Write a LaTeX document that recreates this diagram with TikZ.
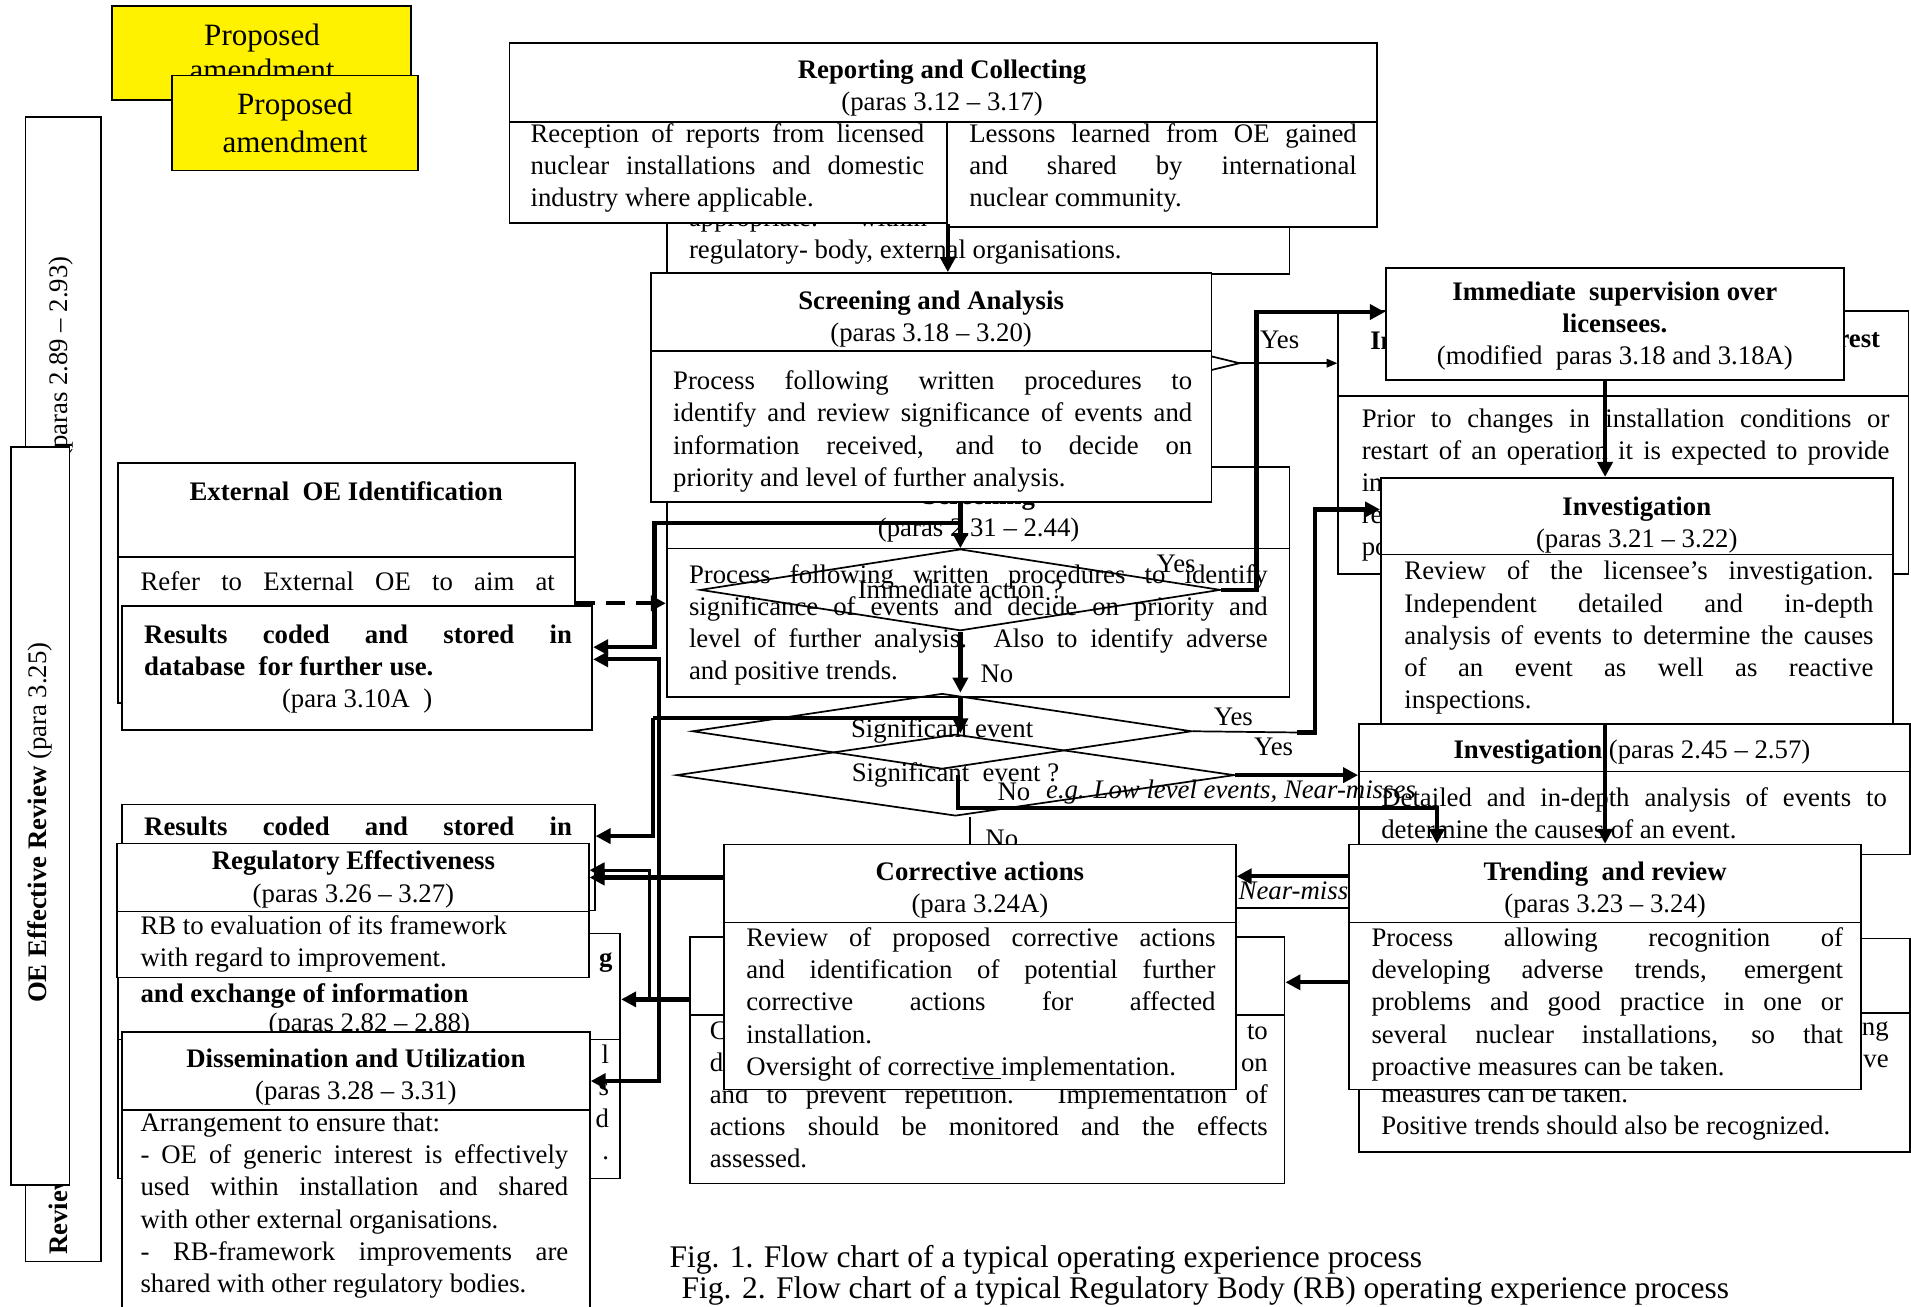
\documentclass[tikz,border=0pt]{standalone}
\usepackage{fontspec}
\setmainfont{Liberation Serif}
\usetikzlibrary{arrows.meta, positioning, fit, shapes.geometric}

\newcommand{\txtfont}{\fontsize{12.5}{15}\selectfont\hyphenpenalty=10000\exhyphenpenalty=10000\relax}

\begin{document}
\begin{tikzpicture}[>={Triangle[length=7pt,width=7pt]}, x=0.02cm, y=-0.02cm, font=\txtfont]
  \tikzstyle{rbox}=[draw, line width=0.8pt, fill=white, inner sep=0pt]
  \tikzstyle{ybox}=[rbox, fill=yellow]
  \tikzstyle{txt}=[anchor=north west, inner sep=0pt]
  \tikzstyle{jtxt}=[txt, align=justify]
  \tikzstyle{ctxt}=[anchor=north, inner sep=0pt, align=center]
  \tikzstyle{lbl}=[inner sep=0pt]
  \tikzstyle{flow}=[line width=2pt]
  \tikzstyle{medflow}=[line width=1.4pt]
  \tikzstyle{thinflow}=[line width=0.8pt]
  \tikzstyle{decision}=[diamond, draw, line width=0.8pt, inner sep=0pt, aspect=6]

  \useasboundingbox (0,0) rectangle (1568,1072);

  % review boxes on the left
  \node[rbox, fit={(21,96) (83,1035)}] (orev) {};
  \node[rotate=90, anchor=east, inner sep=0pt] (orevp) at (50,210) {(paras 2.89 -- 2.93)};
  \node[rotate=90, anchor=west, inner sep=0pt, font=\txtfont\bfseries] (orevt) at (48,1030) {Review};
  \node[rbox, fit={(9,367) (57,972)}] (rev) {};
  \node[rotate=90, inner sep=0pt] (revt) at (33,675) {\textbf{OE Effective Review} (para 3.25)};

  \node[ybox, fit={(92,5) (337,82)}] (prop1) {};
  \node[ctxt, font=\fontsize{14.5}{16.5}\selectfont] (prop1t) at (215,19) {Proposed\\amendment};
  \node[ybox, fit={(141,62) (343,140)}] (prop2) {};
  \node[ctxt, font=\fontsize{14.5}{17.6}\selectfont] (prop2t) at (242,76) {Proposed\\amendment};

  % old chart
  \node[rbox, fit={(547,150) (1058,225)}] (orep) {};
  \node[txt, align=left] (orept) at (565,170) {appropriate:\hspace{1.5em}within\\regulatory- body, external organisations.};

  \node[rbox, fit={(547,383) (1058,450)}] (oscrh) {};
  \node[rbox, fit={(547,450) (1058,572)}] (oscrb) {};
  \node[ctxt] (oscrht) at (803,398) {\textbf{Screening}\\(paras 2.31 -- 2.44)};
  \node[jtxt, text width=9.5cm] (oscrbt) at (565,463) {Process following written procedures to identify\linebreak significance of events and decide on priority and\linebreak level of further analysis. Also to identify adverse\linebreak and positive trends.};

  \node[rbox, fit={(1098,255) (1566,325)}] (oimmh) {};
  \node[rbox, fit={(1098,325) (1566,471)}] (oimmb) {};
  \node[txt, font=\txtfont\bfseries] (oimmt1) at (1124,272) {In};
  \node[txt, anchor=north east, font=\txtfont\bfseries] (oimmt2) at (1543,272) {rest};
  \node[jtxt, text width=8.66cm] (oimmbt) at (1117,335) {Prior to changes in installation conditions or\linebreak restart of an operation it is expected to provide\linebreak in\\re\\po};

  \node[rbox, fit={(1115,594) (1567,633)}] (oinvh) {};
  \node[rbox, fit={(1115,633) (1567,701)}] (oinvb) {};
  \node[ctxt] (oinvht) at (1339,607) {\textbf{Investigation} (paras 2.45 -- 2.57)};
  \node[jtxt, text width=8.3cm] (oinvbt) at (1133,646) {Detailed and in-depth analysis of events to\linebreak determine the causes of an event.};

  \node[rbox, fit={(1115,770) (1567,831)}] (otrh) {};
  \node[rbox, fit={(1115,831) (1567,945)}] (otrb) {};
  \node[txt, anchor=north east, align=right] (otrbt1) at (1550,838) {ng\\ve};
  \node[txt, align=left] (otrbt2) at (1133,889) {measures can be taken.\\Positive trends should also be recognized.};

  \node[rbox, fit={(566,769) (1054,833)}] (ocorh) {};
  \node[rbox, fit={(566,833) (1054,971)}] (ocorb) {};
  \node[jtxt, text width=9.16cm] (ocorbt) at (582,838) {C\hfill to\\d\hfill on\\and to prevent repetition. Implementation of\linebreak actions should be monitored and the effects\linebreak assessed.};

  \node[rbox, fit={(97,380) (472,457)}] (oexth) {};
  \node[rbox, fit={(97,457) (472,577)}] (oextb) {};
  \node[ctxt] (oextht) at (284,395) {\textbf{External\ \ OE Identification}};
  \node[txt] (oextbt) at (115,469) {\makebox[6.8cm][s]{Refer to External OE to aim at}};

  \node[rbox, fit={(100,660) (488,747)}] (ores) {};
  \node[txt] (orest) at (118,670) {\makebox[7.02cm][s]{\bfseries Results coded and stored in}};

  \node[rbox, fit={(97,766) (509,853)}] (oexch) {};
  \node[rbox, fit={(97,853) (509,967)}] (oexcb) {};
  \node[txt, anchor=north east, font=\txtfont\bfseries] (oexct1) at (503,781) {g};
  \node[txt, font=\txtfont\bfseries] (oexct2) at (115,807) {and exchange of information};
  \node[ctxt] (oexct3) at (303,831) {(paras 2.82 -- 2.88)};
  \node[txt, anchor=north east, align=right] (oexcbt) at (500,857) {l\\s\\d\\.};

  \coordinate (ovtx) at (1017,298);
  \draw[thinflow] (980,289) -- (ovtx) -- (980,307);

  \node[decision, minimum width=8.54cm, minimum height=1.34cm] (imm) at (788,484) {Immediate action ?};
  \node[decision, minimum width=8.2cm, minimum height=1.24cm] (sigold) at (773,600) {Significant event};
  \node[decision, minimum width=9.16cm, minimum height=1.34cm] (signew) at (784,636) {Significant\ \ event ?};

  \node[lbl] (n3) at (822,688) {No};
  \node[lbl, anchor=west] (nm) at (1016,731) {\textit{Near-misses}};

  % new chart
  \node[rbox, fit={(418,35) (1130,100)}] (reph) {};
  \node[ctxt] (repht) at (773,49) {\textbf{Reporting and Collecting}\\(paras 3.12 -- 3.17)};
  \node[rbox, fit={(418,100) (777,183)}] (replft) {};
  \node[jtxt, text width=6.46cm] (replftt) at (435,101) {Reception of reports from licensed\linebreak nuclear installations and domestic\linebreak industry where applicable.};
  \node[rbox, fit={(777,100) (1130,186)}] (reprgt) {};
  \node[jtxt, text width=6.36cm] (reprgtt) at (795,101) {Lessons learned from OE gained\linebreak and shared by international\linebreak nuclear community.};

  \node[rbox, fit={(534,224) (994,288)}] (scrh) {};
  \node[ctxt] (scrht) at (764,238) {\textbf{Screening and Analysis}\\(paras 3.18 -- 3.20)};
  \node[rbox, fit={(534,288) (994,412)}] (scrb) {};
  \node[jtxt, text width=8.52cm] (scrbt) at (552,304) {Process following written procedures to\linebreak identify and review significance of events and\linebreak information received, and to decide on\linebreak priority and level of further analysis.};

  \node[rbox, fit={(1137,220) (1513,312)}] (imsup) {};
  \node[ctxt] (imsupt) at (1325,231) {\textbf{Immediate\ \ supervision over}\\\textbf{licensees.}\\(modified\ \ paras 3.18 and 3.18A)};

  \node[rbox, fit={(1133,392) (1553,455)}] (invh) {};
  \node[ctxt] (invht) at (1343,407) {\textbf{Investigation}\\(paras 3.21 -- 3.22)};
  \node[rbox, fit={(1133,455) (1553,594)}] (invb) {};
  \node[jtxt, text width=7.7cm] (invbt) at (1152,460) {Review of the licensee's investigation.\linebreak Independent detailed and in-depth\linebreak analysis of events to determine the causes\linebreak of an event as well as reactive\linebreak inspections.};

  \node[rbox, fit={(1107,693) (1527,757)}] (trh) {};
  \node[ctxt] (trht) at (1317,707) {\textbf{Trending\ \ and review}\\(paras 3.23 -- 3.24)};
  \node[rbox, fit={(1107,757) (1527,894)}] (trb) {};
  \node[jtxt, text width=7.74cm] (trbt) at (1125,761) {Process allowing recognition of\linebreak developing adverse trends, emergent\linebreak problems and good practice in one or\linebreak several nuclear installations, so that\linebreak proactive measures can be taken.};

  \node[rbox, fit={(594,693) (1014,757)}] (corh) {};
  \node[ctxt] (corht) at (804,707) {\textbf{Corrective actions}\\(para 3.24A)};
  \node[rbox, fit={(594,757) (1014,894)}] (corb) {};
  \node[jtxt, text width=7.7cm] (corbt) at (612,761) {Review of proposed corrective actions\linebreak and identification of potential further\linebreak corrective actions for affected\linebreak installation.\\Oversight of correct\underline{ive\ }implementation.};

  \node[rbox, fit={(100,497) (486,599)}] (res) {};
  \node[jtxt, text width=7.02cm, font=\txtfont\bfseries] (rest) at (118,512) {Results\ \ coded\ \ and\ \ stored\ \ in\linebreak database\ \ for further use.};
  \node[ctxt] (resp) at (293,565) {(para 3.10A\ \ )};

  \node[rbox, fit={(96,692) (483,748)}] (regh) {};
  \node[ctxt] (reght) at (290,698) {\textbf{Regulatory Effectiveness}\\(paras 3.26 -- 3.27)};
  \node[rbox, fit={(96,748) (483,802)}] (regb) {};
  \node[txt, align=left] (regbt) at (115,751) {RB to evaluation of its framework\\with regard to improvement.};

  \node[rbox, fit={(100,847) (484,911)}] (dish) {};
  \node[ctxt] (disht) at (292,860) {\textbf{Dissemination and Utilization}\\(paras 3.28 -- 3.31)};
  \node[rbox, fit={(100,911) (484,1080)}] (disb) {};
  \node[jtxt, text width=7.02cm] (disbt) at (115,913) {Arrangement to ensure that:\\- OE of generic interest is effectively\linebreak used within installation and shared\linebreak with other external organisations.\\-\ \ RB-framework\ \ improvements\ \ are\linebreak shared with other regulatory bodies.};

  % connectors
  \coordinate (jscr) at (789,429);
  \coordinate (jres) at (537,429);
  \coordinate (jsig) at (789,589);
  \coordinate (jdis) at (541,589);
  \coordinate (jore) at (536,589);
  \coordinate (jyes) at (1031,256);
  \coordinate (jsyes) at (1064,601);
  \coordinate (jinv) at (1079,418);
  \coordinate (jno) at (786,663);
  \coordinate (xtr) at (1179,0);
  \coordinate (jreg) at (533,820);

  \draw[flow,->] (replft.south east) -- (replft.south east |- scrh.north);
  \draw[flow,->] (scrb.south -| imm.north) -- (imm.north);
  \draw[flow,->] (jscr) -- (jres) |- (res.east |- 0,531);
  \draw[flow, dash pattern=on 9pt off 5pt, ->] (oexth.east |- 0,495) -- (oscrb.west |- 0,495);
  \draw[flow,->] (imm.south) -- (imm.south |- sigold.north);
  \draw[flow,->] (imm.south |- oscrb.south) -- (imm.south |- signew.north);
  \draw[flow] (jsig) -- (jore);
  \draw[flow,->] (jdis) |- (res.east |- 0,541);
  \draw[flow,->] (jdis) |- (dish.east |- 0,887);
  \draw[flow,->] (jore) |- (ores.east |- 0,686);
  \draw[flow,->] (imm.east) -| (jyes) -- (imsup.west |- jyes);
  \draw[thinflow,-{Triangle[length=5pt,width=4pt]}] (ovtx) -- (oimmh.west |- ovtx);
  \draw[thinflow] (sigold.east) -- (jsyes);
  \draw[flow,->] (jsyes) -| (jinv) -- (invh.west |- jinv);
  \draw[flow,->] (signew.east) -- (oinvh.west |- signew.east);
  \draw[flow,->] (signew.center -| jno) -- (jno) -| (trh.north -| xtr);
  \draw[thinflow] (signew.south -| 796,0) -- (corh.north -| 796,0);
  \draw[flow,->] (imsup.south -| trh.north) -- (invh.north -| trh.north);
  \draw[flow,->] (invb.south -| trh.north) -- (trh.north);
  \draw[flow,->] (trh.west |- 0,719) -- (corh.east |- 0,719);
  \draw[thinflow] (corh.east |- 0,745) -- (trh.west |- 0,745);
  \draw[flow,->] (trb.west |- 0,806) -- (ocorb.east |- 0,806);
  \draw[flow,->] (corh.west |- 0,720) -- (regh.east |- 0,720);
  \draw[flow,->] (ocorh.west |- 0,820) -- (oexch.east |- 0,820);
  \draw[medflow,->] (jreg) |- (regh.east |- 0,714);

  \node[lbl] (y1) at (1050,279) {Yes};
  \node[lbl] (y2) at (965,463) {Yes};
  \node[lbl] (n1) at (818,553) {No};
  \node[lbl] (y3) at (1012,588) {Yes};
  \node[lbl] (y4) at (1045,613) {Yes};
  \node[lbl] (n2) at (832,650) {No};
  \node[lbl, anchor=west] (eg) at (858,650) {\textit{e.g. Low level events, Near-misses}};

  \node[anchor=west, inner sep=0pt, font=\fontsize{14.7}{16}\selectfont] (cap1) at (549,1034) {Fig. 1. Flow chart of a typical operating experience process};
  \node[anchor=west, inner sep=0pt, font=\fontsize{14.7}{16}\selectfont] (cap2) at (559,1059) {Fig. 2. Flow chart of a typical Regulatory Body (RB) operating experience process};
\end{tikzpicture}
\end{document}
